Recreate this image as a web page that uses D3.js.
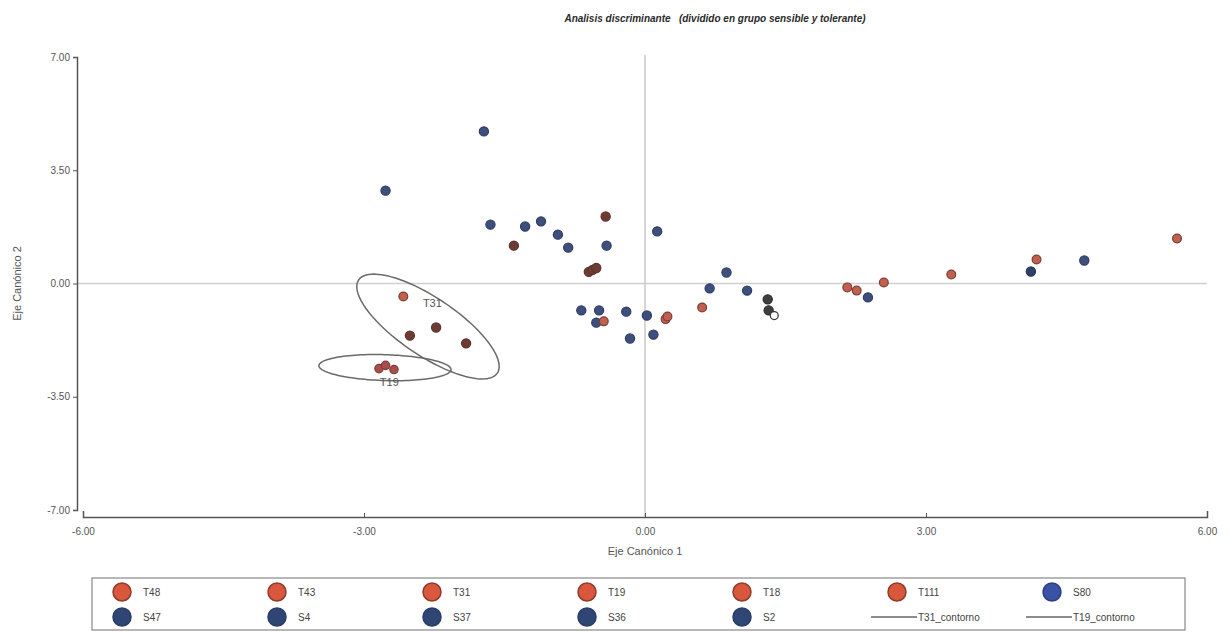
<!DOCTYPE html>
<html>
<head>
<meta charset="utf-8">
<script src="https://cdn.jsdelivr.net/npm/d3@7"></script>
<style>
  html, body { margin: 0; padding: 0; background: #fff; }
  svg text { font-family: "Liberation Sans", Arial, sans-serif; }
</style>
</head>
<body>
<svg id="chart" width="1230" height="633"></svg>
<script>
// Canonical discriminant scores, grouped by how they are drawn
const sensibleX = [-1.72, -2.77, -1.65, -1.28, -1.11, -0.93, -0.82, -0.41, 0.13, -0.68, -0.49, -0.52, -0.20, 0.02, -0.16, 0.09, 0.69, 0.87, 1.09, 2.38, 4.69];
const sensibleY = [4.70, 2.87, 1.82, 1.76, 1.92, 1.51, 1.11, 1.17, 1.61, -0.83, -0.83, -1.21, -0.87, -0.99, -1.70, -1.58, -0.15, 0.34, -0.22, -0.43, 0.71];
const s80X = [4.12];
const s80Y = [0.37];
const toleranteX = [-0.44, 0.22, 0.24, 0.61, 2.16, 2.26, 2.55, 3.27, 4.18, 5.68, -2.58];
const toleranteY = [-1.17, -1.10, -1.02, -0.74, -0.12, -0.22, 0.03, 0.28, 0.74, 1.39, -0.40];
const t31X = [-0.42, -1.40, -0.60, -0.56, -0.52, -2.23, -2.51, -1.91];
const t31Y = [2.07, 1.17, 0.36, 0.42, 0.48, -1.36, -1.61, -1.85];
const t19X = [-2.84, -2.77, -2.68];
const t19Y = [-2.63, -2.53, -2.66];
const otherX = [1.31, 1.32];
const otherY = [-0.49, -0.83];
const hollowX = [1.38];
const hollowY = [-0.99];

// Contour ellipses: centre, first and second half-axis vectors (data units)
const contourNames = ["T31", "T19"];
const contourCenterX = [-2.317, -2.776];
const contourCenterY = [-1.33, -2.60];
const contourAxisA = [[0.74, -1.44], [0.705, -0.06]];
const contourAxisB = [[-0.173, -0.742], [0.0, -0.40]];
const contourLabelX = [-2.27, -2.73];
const contourLabelY = [-0.72, -3.18];

const xTicks = [-6, -3, 0, 3, 6];
const yTicks = [7, 3.5, 0, -3.5, -7];

const legendRow1 = ["T48", "T43", "T31", "T19", "T18", "T111", "S80"];
const legendRow2 = ["S47", "S4", "S37", "S36", "S2", "T31_contorno", "T19_contorno"];

const svg = d3.select("#chart");
const x = d3.scaleLinear().domain([-6, 6]).range([83, 1207]);
const y = d3.scaleLinear().domain([-7, 7]).range([510, 57]);
const fmt = v => d3.format(".2f")(v).replace("\u2212", "-");

// Title
svg.append("text")
  .attr("x", 715).attr("y", 22)
  .attr("text-anchor", "middle")
  .style("font-size", "10px").style("font-weight", "bold").style("font-style", "italic")
  .attr("fill", "#2a2a2a")
  .attr("xml:space", "preserve")
  .text("Analisis discriminante   (dividido en grupo sensible y tolerante)");

// Reference lines through the origin
svg.append("line")
  .attr("x1", 77).attr("x2", x(6)).attr("y1", y(0)).attr("y2", y(0))
  .attr("stroke", "#d0d0d0").attr("stroke-width", 1.5);
svg.append("line")
  .attr("x1", x(0)).attr("x2", x(0)).attr("y1", y(7) - 2).attr("y2", 517)
  .attr("stroke", "#c8c8c8").attr("stroke-width", 1.5);

// Axes
const yAxis = d3.axisLeft(y).tickValues(yTicks).tickFormat(fmt).tickSize(4).tickPadding(3);
const gy = svg.append("g").attr("transform", "translate(77,0)").call(yAxis);
const xAxis = d3.axisBottom(x).tickValues(xTicks).tickFormat(fmt).tickSizeInner(-4).tickSizeOuter(-6).tickPadding(11);
const gx = svg.append("g").attr("transform", "translate(0,517)").call(xAxis);
[gx, gy].forEach(g => {
  g.select(".domain").attr("stroke", "#555").attr("stroke-width", 1.5);
  g.selectAll(".tick line").attr("stroke", "#555");
  g.selectAll(".tick text").attr("fill", "#555").style("font-size", "10px")
    .style("font-family", "'Liberation Sans', Arial, sans-serif");
});

svg.append("text")
  .attr("x", x(0)).attr("y", 555)
  .attr("text-anchor", "middle")
  .style("font-size", "11px").attr("fill", "#555")
  .text("Eje Canónico 1");
svg.append("text")
  .attr("transform", "translate(21," + y(0) + ") rotate(-90)")
  .attr("text-anchor", "middle")
  .style("font-size", "11px").attr("fill", "#555")
  .text("Eje Canónico 2");

// Contour ellipses
const line = d3.line().x(d => x(d[0])).y(d => y(d[1])).curve(d3.curveLinearClosed);
contourNames.forEach((name, i) => {
  const pts = d3.range(0, 120).map(k => {
    const t = 2 * Math.PI * k / 120;
    return [
      contourCenterX[i] + contourAxisA[i][0] * Math.cos(t) + contourAxisB[i][0] * Math.sin(t),
      contourCenterY[i] + contourAxisA[i][1] * Math.cos(t) + contourAxisB[i][1] * Math.sin(t)
    ];
  });
  svg.append("path").attr("d", line(pts))
    .attr("fill", "none").attr("stroke", "#6a6a6a").attr("stroke-width", 1.5);
  svg.append("text")
    .attr("x", x(contourLabelX[i])).attr("y", y(contourLabelY[i]))
    .attr("text-anchor", "middle")
    .style("font-size", "11px").attr("fill", "#555")
    .text(name);
});

// Point groups
function drawPoints(xs, ys, fill, stroke, r) {
  svg.append("g").selectAll("circle")
    .data(xs.map((v, i) => [v, ys[i]]))
    .join("circle")
    .attr("cx", d => x(d[0])).attr("cy", d => y(d[1]))
    .attr("r", r)
    .attr("fill", fill).attr("stroke", stroke).attr("stroke-width", 1.2);
}
drawPoints(sensibleX, sensibleY, "#3d4f7c", "#2f3d62", 4.6);
drawPoints(s80X, s80Y, "#2f3f66", "#27355a", 4.6);
drawPoints(toleranteX, toleranteY, "#c0604f", "#7e3c33", 4.4);
drawPoints(t31X, t31Y, "#6e3b33", "#5e332c", 4.6);
drawPoints(t19X, t19Y, "#a84f4a", "#7e3c38", 4.2);
drawPoints(otherX, otherY, "#3e3e3e", "#2e2e2e", 4.6);
drawPoints(hollowX, hollowY, "#ffffff", "#333", 4.0);

// Legend
const legend = svg.append("g");
legend.append("rect")
  .attr("x", 92).attr("y", 578).attr("width", 1093).attr("height", 52)
  .attr("fill", "#fff").attr("stroke", "#888").attr("stroke-width", 1.2);
const colX = d3.range(7).map(i => 122 + i * 155);
function legendItem(name, cx, cy) {
  if (name.endsWith("_contorno")) {
    legend.append("line")
      .attr("x1", cx - 26).attr("x2", cx + 20).attr("y1", cy).attr("y2", cy)
      .attr("stroke", "#666").attr("stroke-width", 1.3);
    legend.append("text").attr("x", cx + 21).attr("y", cy + 4)
      .style("font-size", "10px").attr("fill", "#444").text(name);
    return;
  }
  const isS = name.startsWith("S");
  legend.append("circle")
    .attr("cx", cx).attr("cy", cy).attr("r", 9)
    .attr("fill", name === "S80" ? "#3a52a4" : (isS ? "#2f4674" : "#d9573c"))
    .attr("stroke", name === "S80" ? "#2d3f82" : (isS ? "#2a3d66" : "#8e3b2d"))
    .attr("stroke-width", 1.5);
  legend.append("text").attr("x", cx + 21).attr("y", cy + 4)
    .style("font-size", "10px").attr("fill", "#444").text(name);
}
legendRow1.forEach((n, i) => legendItem(n, colX[i], 592));
legendRow2.forEach((n, i) => legendItem(n, colX[i], 617));
</script>
</body>
</html>
